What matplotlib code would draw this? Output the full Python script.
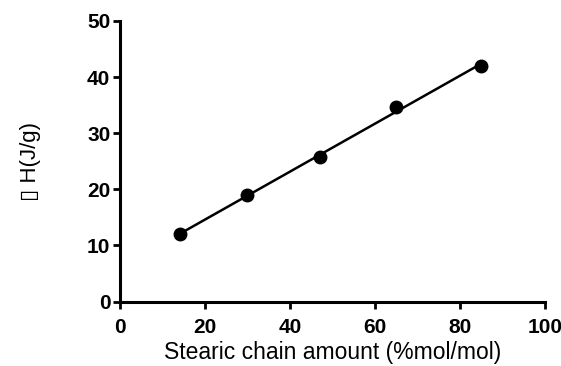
import numpy as np
import matplotlib.pyplot as plt

plt.rcParams['font.family'] = ['Liberation Sans', 'DejaVu Sans']

stearic = [14, 30, 47, 65, 85]
delta_h = [12.0, 18.9, 25.7, 34.7, 41.9]
x_ticks = [0, 20, 40, 60, 80, 100]
y_ticks = [0, 10, 20, 30, 40, 50]

fig = plt.figure(figsize=(5.61, 3.66), dpi=100)
ax = fig.add_axes([0.214, 0.176, 0.757, 0.767])

# prosta regresji
a, b = np.polyfit(stearic, delta_h, 1)
xs = np.array([min(stearic), max(stearic)])
ax.plot(xs, a * xs + b, color='black', linewidth=1.8, zorder=2)
ax.plot(stearic, delta_h, 'o', color='black', markersize=9, zorder=3)

ax.set_xlim(0, 100)
ax.set_ylim(0, 50)
ax.set_xticks(x_ticks)
ax.set_yticks(y_ticks)
for lab in ax.get_xticklabels() + ax.get_yticklabels():
    lab.set_fontweight('bold')
ax.tick_params(axis='both', labelsize=15, width=2, length=5, direction='out')
ax.tick_params(axis='x', pad=7)
ax.tick_params(axis='y', pad=2)

for side in ['top', 'right']:
    ax.spines[side].set_visible(False)
for side in ['left', 'bottom']:
    ax.spines[side].set_linewidth(2.2)

ax.set_xlabel('Stearic chain amount (%mol/mol)', fontsize=16.5, labelpad=3)
ax.set_ylabel('\u25af H(J/g)', fontsize=16, labelpad=33)

fig.savefig('out.png', dpi=100)
